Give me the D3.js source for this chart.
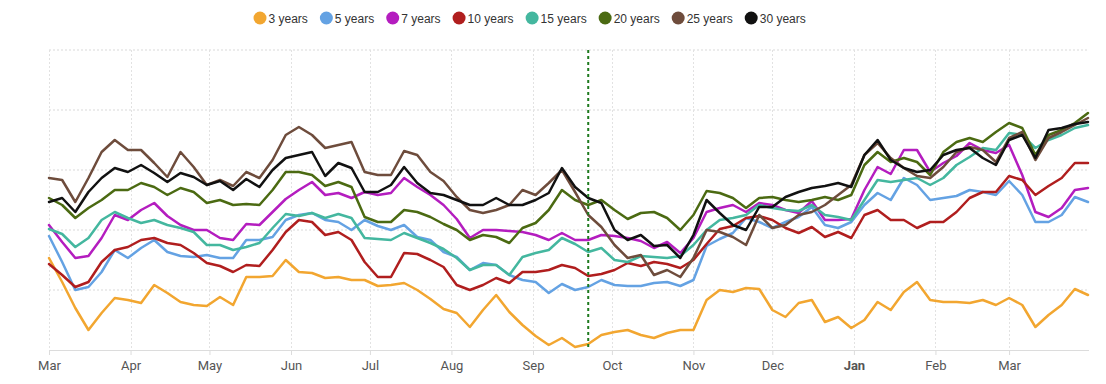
<!DOCTYPE html>
<html><head><meta charset="utf-8">
<script src="https://cdn.jsdelivr.net/npm/d3@7/dist/d3.min.js"></script>
<style>
html,body{margin:0;padding:0;background:#fff;}
svg{display:block;}
</style></head>
<body><svg id="chart" width="1106" height="384"></svg>
<script>
// ---- data ----
const seriesNames = ["3 years","5 years","7 years","10 years","15 years","20 years","25 years","30 years"];
const seriesColors = ["#F2A630","#64A2E3","#B41DBF","#B01E1E","#44B79F","#4B6A12","#6E4C3C","#111111"];
const startDate = new Date(2018, 2, 1);
const stepDays = 5;
const markerDate = new Date(2018, 8, 22);
const yGridValues = [0, 0.6, 1.2, 1.8, 2.4, 3.0];
const monthLabels = ["Jan","Feb","Mar","Apr","May","Jun","Jul","Aug","Sep","Oct","Nov","Dec"];

const y3 = [0.92,0.68,0.42,0.20,0.37,0.52,0.50,0.47,0.65,0.57,0.48,0.45,0.44,0.53,0.45,0.73,0.73,0.74,0.90,0.78,0.77,0.72,0.73,0.70,0.70,0.64,0.65,0.67,0.60,0.51,0.41,0.37,0.23,0.40,0.55,0.38,0.25,0.14,0.05,0.12,0.03,0.06,0.15,0.18,0.20,0.15,0.12,0.17,0.20,0.20,0.50,0.60,0.58,0.62,0.61,0.40,0.33,0.47,0.50,0.28,0.33,0.22,0.30,0.48,0.40,0.58,0.68,0.50,0.48,0.48,0.47,0.50,0.45,0.52,0.45,0.23,0.35,0.45,0.61,0.55];
const y5 = [1.14,0.88,0.60,0.63,0.78,1.00,0.92,1.02,1.10,0.98,0.94,0.93,0.95,0.92,0.92,1.10,1.10,1.13,1.30,1.35,1.37,1.30,1.28,1.20,1.30,1.24,1.20,1.25,1.13,1.10,0.98,0.93,0.80,0.87,0.85,0.75,0.70,0.68,0.57,0.66,0.60,0.63,0.70,0.65,0.64,0.64,0.67,0.68,0.64,0.70,1.04,1.11,1.17,1.32,1.28,1.22,1.28,1.33,1.43,1.25,1.22,1.28,1.45,1.57,1.50,1.72,1.65,1.50,1.52,1.54,1.60,1.58,1.55,1.69,1.55,1.28,1.28,1.35,1.53,1.48];
const y7 = [1.25,1.08,0.92,0.94,1.12,1.35,1.30,1.40,1.47,1.34,1.25,1.20,1.20,1.12,1.10,1.26,1.25,1.38,1.51,1.60,1.68,1.55,1.57,1.52,1.58,1.55,1.57,1.72,1.63,1.55,1.45,1.31,1.12,1.20,1.20,1.19,1.18,1.15,1.10,1.17,1.10,1.10,1.15,1.14,1.12,1.09,1.02,1.08,0.97,1.12,1.38,1.42,1.45,1.38,1.47,1.45,1.40,1.37,1.49,1.30,1.30,1.31,1.60,1.83,1.76,2.00,2.00,1.78,1.87,1.94,2.07,2.00,1.97,2.05,1.75,1.38,1.33,1.42,1.60,1.62];
const y10 = [0.86,0.75,0.63,0.68,0.88,1.00,1.03,1.10,1.12,1.07,1.05,0.97,0.87,0.84,0.78,0.85,0.84,1.00,1.18,1.30,1.28,1.15,1.18,1.10,0.88,0.73,0.73,0.97,0.96,0.90,0.83,0.65,0.60,0.65,0.72,0.67,0.78,0.78,0.80,0.85,0.82,0.74,0.76,0.80,0.87,0.84,0.88,0.86,0.82,0.90,1.06,1.21,1.24,1.32,1.34,1.30,1.22,1.17,1.23,1.13,1.18,1.12,1.35,1.40,1.30,1.30,1.22,1.28,1.28,1.38,1.52,1.58,1.58,1.74,1.70,1.55,1.64,1.72,1.87,1.87];
const y15 = [1.21,1.16,1.03,1.12,1.30,1.38,1.32,1.27,1.30,1.25,1.22,1.18,1.05,1.05,1.00,1.03,1.07,1.22,1.36,1.34,1.37,1.32,1.36,1.32,1.12,1.11,1.10,1.17,1.12,1.07,1.01,0.92,0.80,0.85,0.85,0.75,0.93,0.97,1.00,1.12,1.06,0.98,1.02,0.90,0.88,0.94,0.93,0.92,0.94,1.05,1.20,1.30,1.32,1.35,1.45,1.42,1.40,1.39,1.45,1.35,1.33,1.30,1.50,1.70,1.68,1.70,1.72,1.65,1.72,1.85,1.93,2.02,2.00,2.17,2.15,2.02,2.10,2.15,2.22,2.25];
const y20 = [1.52,1.45,1.32,1.42,1.50,1.60,1.60,1.67,1.63,1.55,1.62,1.58,1.47,1.50,1.45,1.46,1.45,1.60,1.78,1.78,1.75,1.64,1.68,1.63,1.33,1.28,1.28,1.40,1.38,1.33,1.26,1.20,1.10,1.15,1.13,1.07,1.22,1.27,1.40,1.60,1.50,1.45,1.50,1.40,1.31,1.37,1.38,1.32,1.20,1.35,1.59,1.57,1.52,1.42,1.52,1.53,1.50,1.48,1.50,1.53,1.50,1.55,1.85,1.98,1.88,1.92,1.88,1.75,1.98,2.08,2.12,2.08,2.18,2.27,2.22,1.95,2.15,2.20,2.27,2.37];
const y25 = [1.72,1.70,1.48,1.72,1.98,2.10,2.00,2.00,1.87,1.73,1.98,1.83,1.65,1.70,1.64,1.78,1.72,1.90,2.15,2.23,2.15,2.02,2.05,2.08,1.78,1.75,1.75,1.99,1.95,1.78,1.69,1.53,1.40,1.37,1.40,1.45,1.60,1.55,1.67,1.80,1.58,1.35,1.23,1.05,0.92,0.95,0.75,0.80,0.73,0.92,1.20,1.18,1.13,1.05,1.35,1.22,1.25,1.35,1.38,1.45,1.55,1.65,1.95,2.07,1.92,1.82,1.74,1.72,1.83,1.98,2.03,2.00,1.88,2.12,2.18,1.90,2.12,2.18,2.25,2.32];
const y30 = [1.48,1.52,1.38,1.58,1.72,1.82,1.78,1.85,1.77,1.68,1.77,1.73,1.65,1.69,1.60,1.71,1.63,1.80,1.92,1.95,1.98,1.74,1.87,1.82,1.58,1.58,1.65,1.83,1.67,1.57,1.55,1.50,1.45,1.45,1.52,1.45,1.45,1.50,1.57,1.82,1.63,1.52,1.47,1.20,1.10,1.15,1.04,1.05,0.92,1.15,1.50,1.37,1.25,1.20,1.43,1.43,1.53,1.58,1.62,1.64,1.67,1.63,1.95,2.10,1.90,1.82,1.78,1.80,1.95,2.00,2.02,1.92,1.85,2.10,2.15,1.92,2.20,2.22,2.26,2.28];
const seriesValues = [y3, y5, y7, y10, y15, y20, y25, y30];

// ---- chart ----
const svg = d3.select("#chart");
const margin = {left: 49, right: 18, top: 50, bottom: 34};
const W = 1106, H = 384;
const dates = d3.range(y3.length).map(i => d3.timeDay.offset(startDate, i * stepDays));

const x = d3.scaleTime().domain([dates[0], dates[dates.length - 1]]).range([margin.left, W - margin.right]);
const y = d3.scaleLinear().domain([0, 3]).range([H - margin.bottom, margin.top]);

// horizontal dotted grid
svg.append("g").selectAll("line").data(yGridValues.slice(1)).join("line")
  .attr("x1", margin.left).attr("x2", W - margin.right)
  .attr("y1", d => y(d)).attr("y2", d => y(d))
  .attr("stroke", "#d9d9d9").attr("stroke-width", 1).attr("stroke-dasharray", "2,2");

// vertical grid at months
const monthTicks = d3.timeMonth.range(startDate, d3.timeDay.offset(dates[dates.length - 1], 1));
svg.append("g").selectAll("line").data(monthTicks).join("line")
  .attr("x1", d => Math.round(x(d)) + 0.5).attr("x2", d => Math.round(x(d)) + 0.5)
  .attr("y1", margin.top).attr("y2", y(0))
  .attr("stroke", "#e2e2e2").attr("stroke-width", 1).attr("stroke-dasharray", "2,2");

// x axis
const xAxis = d3.axisBottom(x).tickValues(monthTicks)
  .tickFormat(d => monthLabels[d.getMonth()]).tickSize(5).tickPadding(6);
const gx = svg.append("g").attr("transform", `translate(0,${y(0)})`).call(xAxis);
gx.select(".domain").attr("stroke", "#dcdcdc").attr("d", `M${margin.left},0.5H${W - margin.right + 1}`);
gx.selectAll(".tick line").attr("stroke", "#dcdcdc");
gx.selectAll(".tick text")
  .attr("fill", "#555").attr("font-family", "Roboto, sans-serif").attr("font-size", 13)
  .attr("font-weight", d => d.getMonth() === 0 ? "bold" : "normal");

// lines
const line = d3.line().x((d, i) => x(dates[i])).y(d => y(d));
svg.append("g").selectAll("path").data(seriesValues).join("path")
  .attr("d", d => line(d))
  .attr("fill", "none")
  .attr("stroke", (d, i) => seriesColors[i])
  .attr("stroke-width", 2.5)
  .attr("stroke-linejoin", "round")
  .attr("stroke-linecap", "round");

// marker line
svg.append("line")
  .attr("x1", x(markerDate)).attr("x2", x(markerDate))
  .attr("y1", margin.top).attr("y2", y(0))
  .attr("stroke", "#1E7A1E").attr("stroke-width", 2).attr("stroke-dasharray", "3,3");

// legend
const legend = svg.append("g").attr("transform", "translate(0,18)");
let lx = 253.5;
seriesNames.forEach((name, i) => {
  const g = legend.append("g").attr("transform", `translate(${lx},0)`);
  g.append("circle").attr("cx", 6.5).attr("cy", 0).attr("r", 6.5).attr("fill", seriesColors[i]);
  const t = g.append("text").attr("x", 15).attr("y", 4.5)
    .attr("font-family", "'Liberation Sans', Arial, sans-serif").attr("font-size", 12)
    .attr("fill", "#333").text(name);
  lx += 15 + t.node().getComputedTextLength() + 12;
});
</script>
</body></html>
